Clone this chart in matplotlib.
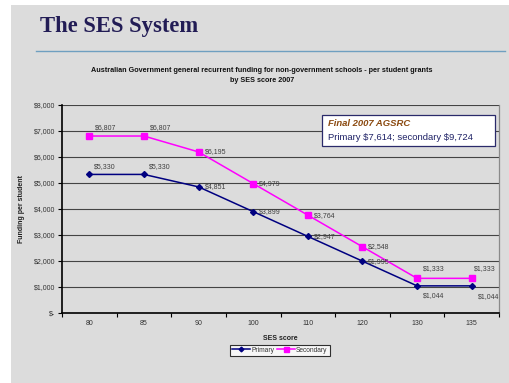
import matplotlib
matplotlib.use("Agg")
import matplotlib.pyplot as plt
from matplotlib.patches import Rectangle
from matplotlib.lines import Line2D

# Data: per student grants by SES score, 2007
ses_scores = ["80", "85", "90", "100", "110", "120", "130", "135"]
primary = [5330, 5330, 4851, 3899, 2947, 1995, 1044, 1044]
secondary = [6807, 6807, 6195, 4979, 3764, 2548, 1333, 1333]
y_ticks = [0, 1000, 2000, 3000, 4000, 5000, 6000, 7000, 8000]

W, H = 509, 383
fig = plt.figure(figsize=(W / 100, H / 100), dpi=100, facecolor="white")
plt.rcParams["font.family"] = ["Liberation Sans", "DejaVu Sans"]

# Slide background
fig.patches.append(Rectangle((11 / W, 0), 1 - 11 / W, 1 - 5 / H,
                             transform=fig.transFigure, facecolor="#dcdcdc",
                             edgecolor="none", zorder=-5))

# Slide heading and rule
fig.text(40 / W, 1 - 32 / H, "The SES System", family="Liberation Serif",
         fontsize=16.3, fontweight="bold", color="#221c55", va="baseline")
fig.add_artist(Line2D([36 / W, 505 / W], [1 - 51 / H, 1 - 51 / H],
                      transform=fig.transFigure, color="#6f9fc0", lw=1.0))

# Chart title
fig.text(262 / W, 1 - 71 / H,
         "Australian Government general recurrent funding for non-government schools - per student grants",
         ha="center", va="center", fontsize=5.2, fontweight="bold", color="#111111")
fig.text(262 / W, 1 - 81 / H, "by SES score 2007", ha="center", va="center",
         fontsize=5.2, fontweight="bold", color="#111111")

left, right, top, bottom = 62, 499, 105, 313
ax = fig.add_axes([left / W, 1 - bottom / H, (right - left) / W, (bottom - top) / H])
ax.set_facecolor("none")

x = list(range(len(ses_scores)))
for yv in y_ticks[1:]:
    ax.axhline(yv, color="#444444", lw=0.8, zorder=1)

ax.plot(x, primary, color="#000080", marker="D", markersize=3, lw=1.1,
        label="Primary", zorder=3)
ax.plot(x, secondary, color="#ff00ff", marker="s", markersize=4.5, lw=1.1,
        label="Secondary", zorder=3)

ax.set_xlim(-0.5, len(x) - 0.5)
ax.set_ylim(0, 8000)
ax.set_xticks(x)
ax.set_xticklabels(ses_scores)
ax.set_xticks([i - 0.5 for i in range(len(x) + 1)], minor=True)
ax.tick_params(axis="x", which="major", length=0, labelsize=5, pad=5, colors="#333333")
ax.tick_params(axis="x", which="minor", length=3, width=0.8, direction="out", color="black")
ax.set_yticks(y_ticks)
ax.set_yticklabels(["\\$-" if v == 0 else f"\\${v:,}" for v in y_ticks])
ax.tick_params(axis="y", length=3, width=0.8, labelsize=5, pad=2, colors="#333333")
ax.tick_params(axis="y", color="black")

for s in ("left", "bottom"):
    ax.spines[s].set_color("black")
    ax.spines[s].set_linewidth(1.2)
ax.spines["right"].set_color("#8a8a8a")
ax.spines["right"].set_linewidth(0.9)
ax.spines["top"].set_visible(False)

ax.set_xlabel("SES score", fontsize=5, fontweight="bold", color="#222222", labelpad=6)
ax.set_ylabel("Funding per student", fontsize=5, fontweight="bold", color="#222222", labelpad=6)

# Data labels
lab_kw = dict(fontsize=5, color="#404040", textcoords="offset pixels")
for i, (p, s) in enumerate(zip(primary, secondary)):
    if i < 2:
        ax.annotate(f"\\${p:,}", (i, p), xytext=(5, 4), ha="left", va="bottom", **lab_kw)
        ax.annotate(f"\\${s:,}", (i, s), xytext=(6, 5), ha="left", va="bottom", **lab_kw)
    elif i < 6:
        ax.annotate(f"\\${p:,}", (i, p), xytext=(6, 0), ha="left", va="center", **lab_kw)
        ax.annotate(f"\\${s:,}", (i, s), xytext=(6, 0), ha="left", va="center", **lab_kw)
    else:
        dx = 6 if i == 6 else 2
        ax.annotate(f"\\${s:,}", (i, s), xytext=(dx, 6), ha="left", va="bottom", **lab_kw)
        ax.annotate(f"\\${p:,}", (i, p), xytext=(dx + (0 if i == 6 else 4), -6 if i == 6 else -7),
                    ha="left", va="top", **lab_kw)

# AGSRC note box
fig.patches.append(Rectangle((322 / W, 1 - 146 / H), (495 - 322) / W, 31 / H,
                             transform=fig.transFigure, facecolor="white",
                             edgecolor="#2a2a6a", lw=0.9, zorder=5))
fig.text(328 / W, 1 - 124 / H, "Final 2007 AGSRC", fontsize=6.8, fontstyle="italic",
         fontweight="bold", color="#8b4a10", va="center", zorder=6)
fig.text(328 / W, 1 - 137 / H, "Primary \\$7,614; secondary \\$9,724", fontsize=6.8,
         color="#1f2266", va="center", zorder=6)

leg = ax.legend(loc="center", bbox_to_anchor=(280 / W, 1 - 350 / H),
                bbox_transform=fig.transFigure, ncol=2, fontsize=4.8, frameon=True,
                fancybox=False, edgecolor="black", facecolor="white",
                handlelength=2.6, handletextpad=0.2, columnspacing=0.5,
                borderpad=0.3, markerscale=0.8)
leg.get_frame().set_linewidth(0.8)
for t in leg.get_texts():
    t.set_color("#333333")

fig.savefig("out.png", dpi=100, facecolor="white")
